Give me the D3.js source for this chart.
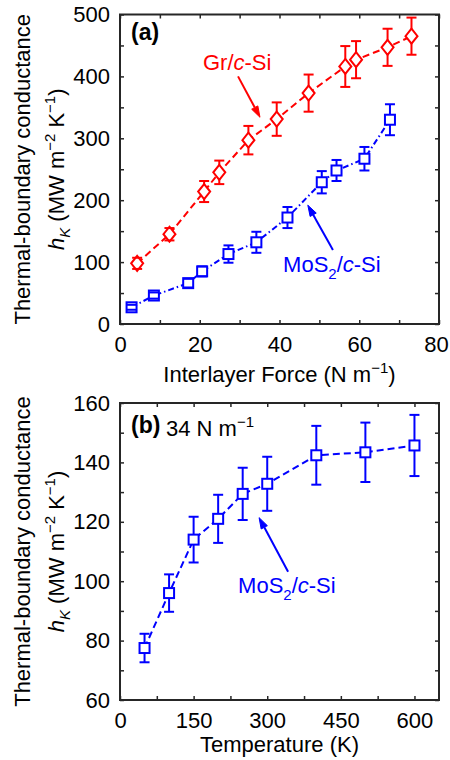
<!DOCTYPE html>
<html>
<head>
<meta charset="utf-8">
<script src="https://cdn.jsdelivr.net/npm/d3@7"></script>
<style>
  html, body { margin: 0; padding: 0; background: #fff; }
  svg text { font-family: "Liberation Sans", Arial, Helvetica, sans-serif; }
</style>
</head>
<body>
<svg id="fig" width="450" height="760"></svg>
<script>
// Panel (a): thermal-boundary conductance vs interlayer force
const forceGr = [4.3, 12.4, 21.1, 24.9, 32.2, 39.3, 47.3, 56.5, 59.2, 67.1, 73.1];
const hkGr    = [98, 145, 214, 245, 297, 331, 373, 416, 427, 447, 465];
const errGr   = [9, 10, 17, 19, 23, 27, 30, 33, 30, 30, 30];

const forceMo = [2.9, 8.5, 17.1, 20.6, 27.2, 34.2, 42.0, 50.6, 54.3, 61.3, 67.7];
const hkMo    = [27, 46, 66, 85, 113, 132, 172, 229, 248, 267, 330];
const errMo   = [4, 5, 7, 8, 14, 17, 17, 18, 17, 19, 25];

// Panel (b): MoS2/c-Si conductance vs temperature at 34 N/m
const temps = [50, 100, 150, 200, 250, 300, 400, 500, 600];
const hkT   = [77.5, 96, 114, 121, 129.4, 132.8, 142.4, 143.4, 145.7];
const errT  = [4.8, 6.3, 7.7, 8.1, 8.8, 9.1, 9.9, 10, 10.3];

// Axis ticks
const xTicksA = d3.range(0, 81, 10), xLabelsA = [0, 20, 40, 60, 80];
const yTicksA = d3.range(0, 501, 50), yLabelsA = [0, 100, 200, 300, 400, 500];
const xTicksB = d3.range(0, 651, 75), xLabelsB = [0, 150, 300, 450, 600];
const yTicksB = d3.range(60, 161, 10), yLabelsB = [60, 80, 100, 120, 140, 160];

const RED = "#ff0000", BLUE = "#0000ff", AX = "#262626";
const FS = 22;
const svg = d3.select("#fig");

const left = 120, right = 439;
const xA = d3.scaleLinear().domain([0, 80]).range([left, right]);
const yA = d3.scaleLinear().domain([0, 500]).range([324, 14.5]);
const xB = d3.scaleLinear().domain([0, 650]).range([left, right]);
const yB = d3.scaleLinear().domain([60, 160]).range([700, 403]);

function frame(x, y, xt, xl, yt, yl) {
  const g = svg.append("g");
  const [x0, x1] = x.range(), [y0, y1] = y.range();
  const tl = 4;
  // inward ticks on all four sides
  const axB = d3.axisBottom(x).tickValues(xt).tickSize(-tl).tickFormat(d => xl.includes(d) ? d : "").tickPadding(12);
  const axT = d3.axisTop(x).tickValues(xt).tickSize(-tl).tickFormat("");
  const axL = d3.axisLeft(y).tickValues(yt).tickSize(-tl).tickFormat(d => yl.includes(d) ? d : "").tickPadding(10);
  const axR = d3.axisRight(y).tickValues(yt).tickSize(-tl).tickFormat("");
  const gb = g.append("g").attr("transform", `translate(0,${y0})`).call(axB);
  const gt = g.append("g").attr("transform", `translate(0,${y1})`).call(axT);
  const gl = g.append("g").attr("transform", `translate(${x0},0)`).call(axL);
  const gr = g.append("g").attr("transform", `translate(${x1},0)`).call(axR);
  [gb, gt, gl, gr].forEach(a => {
    a.select(".domain").remove();
    a.selectAll("line").attr("stroke", AX).attr("stroke-width", 1.5);
    a.selectAll("text").attr("font-size", FS).attr("fill", "#000")
      .attr("font-family", '"Liberation Sans", Arial, Helvetica, sans-serif');
  });
  gb.selectAll("text").attr("dy", "0.72em");
  // keep a label sitting on the right edge inside the page
  gb.selectAll(".tick").filter(d => x(d) > x1 - 1).select("text").attr("x", -3);
  g.append("rect").attr("x", x0).attr("y", y1).attr("width", x1 - x0).attr("height", y0 - y1)
    .attr("fill", "none").attr("stroke", AX).attr("stroke-width", 2);
  return g;
}

function series(x, y, xs, ys, es, color, dash, marker) {
  const g = svg.append("g");
  const pts = xs.map((v, i) => [x(v), y(ys[i]), y(ys[i] + es[i]), y(ys[i] - es[i])]);
  g.append("path")
    .attr("d", d3.line()(pts.map(p => [p[0], p[1]])))
    .attr("fill", "none").attr("stroke", color).attr("stroke-width", 2)
    .attr("stroke-dasharray", dash);
  // error bar stems
  g.selectAll(".stem").data(pts).join("line")
    .attr("x1", p => p[0]).attr("x2", p => p[0])
    .attr("y1", p => p[2]).attr("y2", p => p[3])
    .attr("stroke", color).attr("stroke-width", 2);
  // markers
  if (marker === "diamond") {
    g.selectAll(".mk").data(pts).join("path")
      .attr("d", p => `M${p[0]},${p[1] - 7.5}L${p[0] + 6},${p[1]}L${p[0]},${p[1] + 7.5}L${p[0] - 6},${p[1]}Z`)
      .attr("fill", "#fff").attr("stroke", color).attr("stroke-width", 2);
  } else {
    g.selectAll(".mk").data(pts).join("rect")
      .attr("x", p => p[0] - 5).attr("y", p => p[1] - 5).attr("width", 10).attr("height", 10)
      .attr("fill", "#fff").attr("stroke", color).attr("stroke-width", 2);
  }
  // caps
  pts.forEach(p => {
    [p[2], p[3]].forEach(cy => {
      g.append("line").attr("x1", p[0] - 5).attr("x2", p[0] + 5).attr("y1", cy).attr("y2", cy)
        .attr("stroke", color).attr("stroke-width", 2);
    });
  });
}

function arrow(x1, y1, x2, y2, color) {
  const g = svg.append("g");
  const ang = Math.atan2(y2 - y1, x2 - x1);
  const L = 11, W = 3.5;
  const bx = x2 - L * Math.cos(ang), by = y2 - L * Math.sin(ang);
  g.append("line").attr("x1", x1).attr("y1", y1).attr("x2", bx).attr("y2", by)
    .attr("stroke", color).attr("stroke-width", 2);
  const nx = -Math.sin(ang) * W, ny = Math.cos(ang) * W;
  g.append("path").attr("d", `M${x2},${y2}L${bx + nx},${by + ny}L${bx - nx},${by - ny}Z`)
    .attr("fill", color).attr("stroke", color).attr("stroke-width", 1);
}

function yLabel(cy) {
  svg.append("text").attr("transform", `translate(30,${cy}) rotate(-90)`)
    .attr("text-anchor", "middle").attr("font-size", FS).text("Thermal-boundary conductance");
  const t2 = svg.append("text").attr("transform", `translate(64,${cy}) rotate(-90)`)
    .attr("text-anchor", "middle").attr("font-size", FS);
  t2.append("tspan").attr("font-style", "italic").text("h");
  t2.append("tspan").attr("font-style", "italic").attr("font-size", 15).attr("dy", 6).text("K");
  t2.append("tspan").attr("dy", -6).text(" (MW m");
  t2.append("tspan").attr("font-size", 15).attr("dy", -9).text("\u22122");
  t2.append("tspan").attr("dy", 9).text(" K");
  t2.append("tspan").attr("font-size", 15).attr("dy", -9).text("\u22121");
  t2.append("tspan").attr("dy", 9).text(")");
}

function mosLabel(x, y) {
  const t = svg.append("text").attr("x", x).attr("y", y).attr("font-size", FS).attr("fill", BLUE);
  t.append("tspan").text("MoS");
  t.append("tspan").attr("font-size", 15).attr("dy", 7).text("2");
  t.append("tspan").attr("dy", -7).text("/");
  t.append("tspan").attr("font-style", "italic").text("c");
  t.append("tspan").text("-Si");
}

// ---------- Panel (a) ----------
frame(xA, yA, xTicksA, xLabelsA, yTicksA, yLabelsA);
series(xA, yA, forceGr, hkGr, errGr, RED, "7,4", "diamond");
series(xA, yA, forceMo, hkMo, errMo, BLUE, "6,3,1.5,3", "square");

svg.append("text").attr("x", 131).attr("y", 40).attr("font-size", 23).attr("font-weight", "bold").text("(a)");
const gr = svg.append("text").attr("x", xA(20.8)).attr("y", yA(410)).attr("font-size", FS).attr("fill", RED);
gr.append("tspan").text("Gr/");
gr.append("tspan").attr("font-style", "italic").text("c");
gr.append("tspan").text("-Si");
arrow(xA(29.6), yA(400), xA(35.1), yA(334), RED);
mosLabel(xA(40.9), yA(84));
arrow(xA(53.4), yA(119.5), xA(47.1), yA(192), BLUE);

const xtA = svg.append("text").attr("x", (left + right) / 2).attr("y", 382)
  .attr("text-anchor", "middle").attr("font-size", FS);
xtA.append("tspan").text("Interlayer Force (N m");
xtA.append("tspan").attr("font-size", 15).attr("dy", -9).text("\u22121");
xtA.append("tspan").attr("dy", 9).text(")");
yLabel((yA.range()[0] + yA.range()[1]) / 2);

// ---------- Panel (b) ----------
frame(xB, yB, xTicksB, xLabelsB, yTicksB, yLabelsB);
series(xB, yB, temps, hkT, errT, BLUE, "7,4", "square");

svg.append("text").attr("x", 131).attr("y", 433).attr("font-size", 23).attr("font-weight", "bold").text("(b)");
const nm = svg.append("text").attr("x", 166).attr("y", 436).attr("font-size", FS);
nm.append("tspan").text("34 N m");
nm.append("tspan").attr("font-size", 15).attr("dy", -9).text("\u22121");
mosLabel(xB(240.6), yB(96.1));
arrow(xB(342.5), yB(103.2), xB(283.4), yB(121.4), BLUE);

svg.append("text").attr("x", (left + right) / 2).attr("y", 752)
  .attr("text-anchor", "middle").attr("font-size", FS).text("Temperature (K)");
yLabel((yB.range()[0] + yB.range()[1]) / 2);
</script>
</body>
</html>
